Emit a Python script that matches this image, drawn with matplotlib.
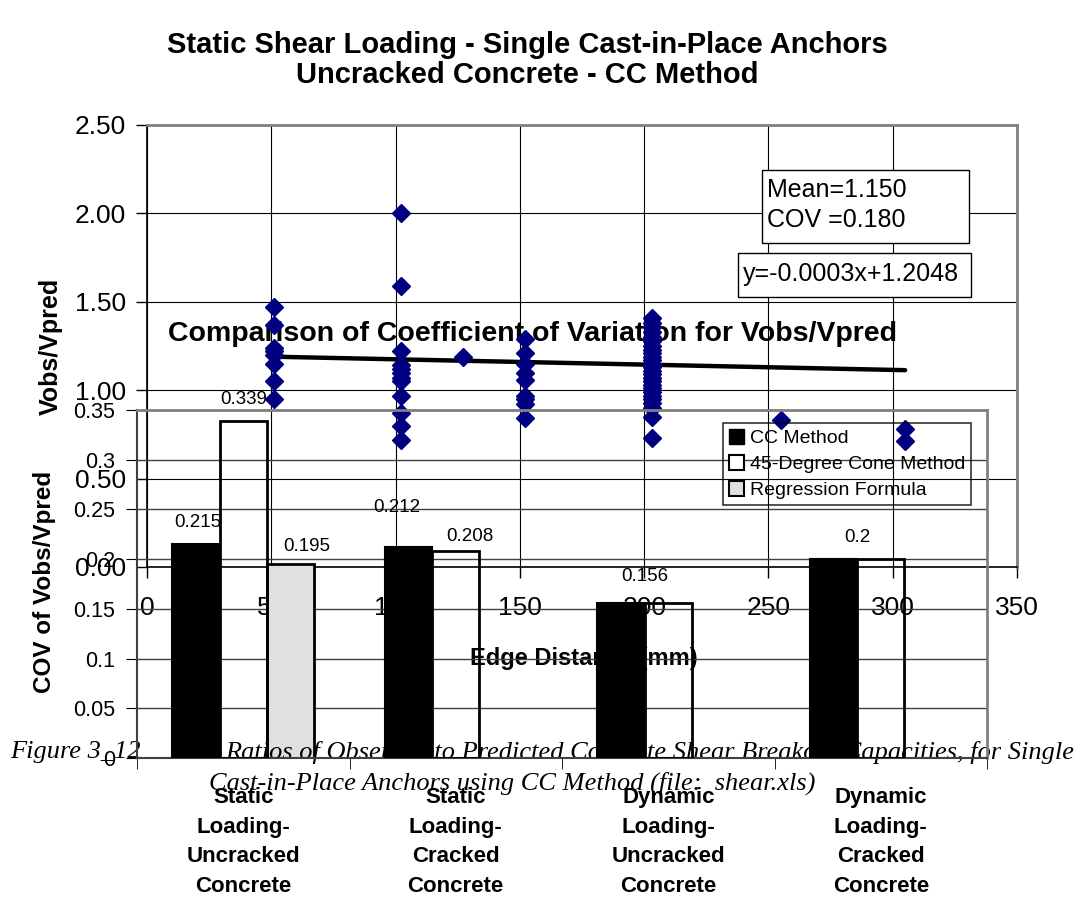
import numpy as np
import matplotlib.pyplot as plt
from matplotlib.patches import Rectangle, Patch
from matplotlib.ticker import FuncFormatter

plt.rcParams['font.family'] = ['Liberation Sans', 'DejaVu Sans']

# scatter: edge distance (mm) -> Vobs/Vpred values read per column
scatter_cols = [
    (51, [1.47, 1.37, 1.24, 1.22, 1.20, 1.15, 1.05, 0.95]),
    (102, [2.00, 1.59, 1.22, 1.14, 1.12, 1.10, 1.07, 1.05, 0.97, 0.87, 0.80, 0.72]),
    (127, [1.19]),
    (152, [1.29, 1.21, 1.15, 1.10, 1.06, 0.97, 0.95, 0.92, 0.84]),
    (203, [1.41, 1.38, 1.36, 1.33, 1.30, 1.28, 1.25, 1.23, 1.21, 1.19, 1.17, 1.15,
           1.13, 1.11, 1.09, 1.07, 1.05, 1.03, 1.01, 0.99, 0.97, 0.95, 0.93, 0.90,
           0.85, 0.73]),
    (255, [0.83]),
    (305, [0.78, 0.71]),
]
trend_slope = -0.0003
trend_icpt = 1.2048
mean_txt = 'Mean=1.150\nCOV =0.180'
eq_txt = 'y=-0.0003x+1.2048'

# bar chart: COV of Vobs/Vpred
categories = ['Static\nLoading-\nUncracked\nConcrete',
              'Static\nLoading-\nCracked\nConcrete',
              'Dynamic\nLoading-\nUncracked\nConcrete',
              'Dynamic\nLoading-\nCracked\nConcrete']
cov_cc = [0.215, 0.212, 0.156, 0.2]
cov_cone = [0.339, 0.208, 0.156, 0.2]
cov_regr = [0.195]          # only the first category has a value
series_names = ['CC Method', '45-Degree Cone Method', 'Regression Formula']

W, H = 1079, 900


def box(l, t, r, b):
    return [l / W, 1 - b / H, (r - l) / W, (b - t) / H]


fig = plt.figure(figsize=(W / 100, H / 100), dpi=100)
ax_s = fig.add_axes(box(147, 125, 1017, 567))
ax_b = fig.add_axes(box(137, 410, 987, 758))
ax_s.set_zorder(1)
ax_b.set_zorder(2)
ax_b.set_facecolor('none')

# ---- scatter chart ----
xs = [c[0] for c in scatter_cols for _ in c[1]]
ys = [v for c in scatter_cols for v in c[1]]
ax_s.plot(xs, ys, 'D', color='#000080', ms=9, zorder=4, clip_on=False)
tx = np.array([min(xs), max(xs)])
ax_s.plot(tx, trend_slope * tx + trend_icpt, color='black', lw=3.2,
          solid_capstyle='round', zorder=3)

ax_s.set_xlim(0, 350)
ax_s.set_ylim(0, 2.5)
ax_s.set_xticks(np.arange(0, 351, 50))
ax_s.set_yticks(np.arange(0, 2.51, 0.5))
ax_s.yaxis.set_major_formatter(FuncFormatter(lambda v, p: f'{v:.2f}'))
ax_s.grid(True, color='black', lw=0.8)
ax_s.set_axisbelow(True)
ax_s.tick_params(direction='out', length=8, width=1, labelsize=19)
ax_s.tick_params(axis='x', pad=13)
ax_s.tick_params(axis='y', pad=7)
for s in ['top', 'right']:
    ax_s.spines[s].set_color('#808080')
    ax_s.spines[s].set_linewidth(2)
for s in ['left', 'bottom']:
    ax_s.spines[s].set_color('black')
    ax_s.spines[s].set_linewidth(1.2)

fig.text(527 / W, 1 - 45 / H, 'Static Shear Loading - Single Cast-in-Place Anchors',
         ha='center', va='center', fontsize=21, fontweight='bold')
fig.text(527 / W, 1 - 75 / H, 'Uncracked Concrete - CC Method',
         ha='center', va='center', fontsize=21, fontweight='bold')
fig.text(51 / W, 1 - 346 / H, 'Vobs/Vpred', rotation=90, ha='center', va='center',
         fontsize=18, fontweight='bold')
fig.text(584 / W, 1 - 658 / H, 'Edge Distance (mm)', ha='center', va='center',
         fontsize=17, fontweight='bold', zorder=0.5)

# boxed annotations
fig.add_artist(Rectangle((762 / W, 1 - 243 / H), (969 - 762) / W, (243 - 170) / H,
                         transform=fig.transFigure, facecolor='white',
                         edgecolor='black', lw=1, zorder=5))
fig.text(767 / W, 1 - 205 / H, mean_txt, ha='left', va='center', fontsize=18,
         linespacing=1.3, zorder=6)
fig.add_artist(Rectangle((738 / W, 1 - 297 / H), (971 - 738) / W, (297 - 253) / H,
                         transform=fig.transFigure, facecolor='white',
                         edgecolor='black', lw=1, zorder=5))
fig.text(743 / W, 1 - 274 / H, eq_txt, ha='left', va='center', fontsize=18, zorder=6)

# ---- bar chart ----
x = np.arange(len(categories))
w = 1 / 4.5
ax_b.bar(x - w, cov_cc, w, color='black', edgecolor='black', lw=1.5, zorder=3)
ax_b.bar(x, cov_cone, w, facecolor='none', edgecolor='black', lw=2, zorder=3)
ax_b.bar(x[:len(cov_regr)] + w, cov_regr, w, color='#e0e0e0', edgecolor='black',
         lw=2, zorder=2)

# value labels: (x position, value, dx px, dy px)
lab_specs = [
    (x[0] - w, cov_cc[0], 2, 22),
    (x[0], cov_cone[0], 0, 21),
    (x[0] + w, cov_regr[0], 16, 18),
    (x[1] - w, cov_cc[1], -12, 40),
    (x[1], cov_cone[1], 14, 15),
    (x[2] - w / 2, cov_cc[2], 0, 26),
    (x[3] - w / 2, cov_cc[3], 0, 22),
]
for lx, v, dx, dy in lab_specs:
    ax_b.annotate(f'{v:g}', (lx, v), xytext=(dx * 0.72, dy * 0.72),
                  textcoords='offset points', ha='center', va='center',
                  fontsize=13.5, zorder=4, annotation_clip=False)

ax_b.set_xlim(-0.5, 3.5)
ax_b.set_ylim(0, 0.35)
ax_b.set_yticks(np.arange(0, 0.351, 0.05))
ax_b.yaxis.set_major_formatter(FuncFormatter(lambda v, p: f'{round(v, 2):g}'))
ax_b.yaxis.grid(True, color='#404040', lw=1)
ax_b.set_axisbelow(True)
ax_b.set_xticks(x, categories, fontweight='bold', fontsize=16, linespacing=1.53)
ax_b.set_xticks(np.arange(-0.5, 4, 1), minor=True)
ax_b.tick_params(axis='x', which='major', length=0, pad=21)
ax_b.tick_params(axis='x', which='minor', length=8, direction='out')
ax_b.tick_params(axis='y', length=8, direction='out', labelsize=15.5, pad=8)
for s in ['top', 'right']:
    ax_b.spines[s].set_color('#808080')
    ax_b.spines[s].set_linewidth(2)
for s in ['left', 'bottom']:
    ax_b.spines[s].set_color('#404040')
    ax_b.spines[s].set_linewidth(1.5)

ax_s.text(533 / W, 1 - 334 / H, 'Comparison of Coefficient of Variation for Vobs/Vpred',
          transform=fig.transFigure, ha='center', va='center', fontsize=20.5,
          fontweight='bold', zorder=2.5)
fig.text(45 / W, 1 - 582 / H, 'COV of Vobs/Vpred', rotation=90, ha='center',
         va='center', fontsize=17.5, fontweight='bold')

handles = [Patch(facecolor='black', edgecolor='black'),
           Patch(facecolor='white', edgecolor='black', lw=1.5),
           Patch(facecolor='#e0e0e0', edgecolor='black', lw=1.5)]
leg = ax_b.legend(handles, series_names, loc='upper left',
                  bbox_to_anchor=((723 - 137) / 850, (758 - 423) / 348),
                  borderaxespad=0, fancybox=False, edgecolor='black',
                  facecolor='none', fontsize=14, handlelength=0.8,
                  handleheight=0.8, handletextpad=0.3, borderpad=0.3,
                  labelspacing=0.4)
leg.get_frame().set_linewidth(1.2)

# figure caption from the source document, partly hidden by the black bars
cap_font = dict(family=['Liberation Serif', 'DejaVu Serif'], style='italic',
                fontsize=19, va='center', zorder=2.5,
                transform=fig.transFigure, clip_on=False)
ax_b.text(10 / W, 1 - 752 / H, 'Figure 3_12', ha='left', **cap_font)
ax_b.text(1074 / W, 1 - 752 / H,
          'Ratios of Observed to Predicted Concrete Shear Breakout '
          'Capacities, for Single', ha='right', **cap_font)
ax_b.text(512 / W, 1 - 783 / H,
          'Cast-in-Place Anchors using CC Method (file:  shear.xls)',
          ha='center', **cap_font)

fig.savefig('out.png', dpi=100)
